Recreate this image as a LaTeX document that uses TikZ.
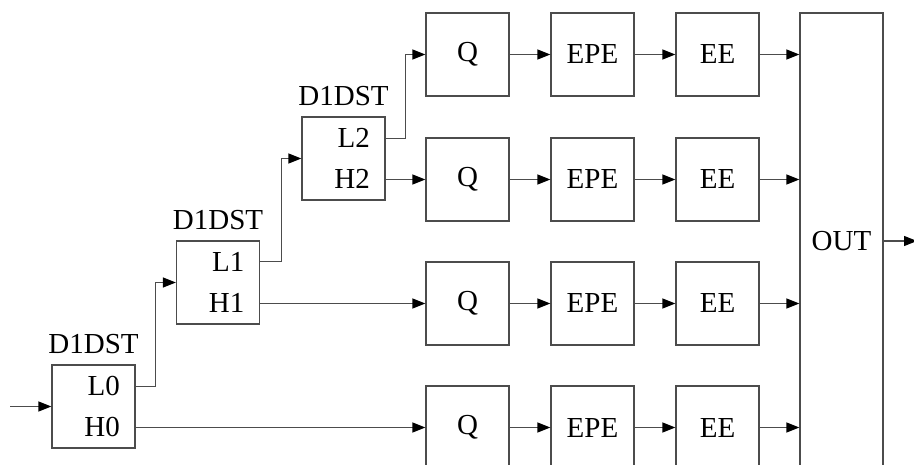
\documentclass[tikz,border=0pt]{standalone}
\usepackage{fontspec}
\setmainfont{Liberation Serif}
\usetikzlibrary{arrows.meta,calc}
\begin{document}
\begin{tikzpicture}[x=1pt,y=-1pt,
  font=\fontsize{29}{33}\selectfont,
  blk/.style={draw=black!70,line width=1.2pt,minimum width=83pt,minimum height=83pt,inner sep=0pt},
  lbl/.style={inner sep=0pt,anchor=base east},
  ttl/.style={inner sep=0pt,anchor=base},
  conn/.style={draw=black!70,line width=1.2pt},
  arr/.style={conn,-{Triangle[length=13pt,width=10pt,black]}}]
\clip (0,0) rectangle (914,464);
\fill[white] (0,0) rectangle (914,464);
% decomposition stages
\node[blk] (d0) at (93.5,406.5) {};
\node[blk] (d1) at (218,282.5) {};
\node[blk] (d2) at (343.5,158.5) {};
\foreach \i in {0,1,2}{
  \node[ttl] (t\i) at ($(d\i.north)+(0,-11)$) {D1DST};
  \node[lbl] (d\i L) at ($(d\i.center)+(26.5,-11)$) {L\i};
  \node[lbl] (d\i H) at ($(d\i.center)+(26.5,30)$) {H\i};
}
% rows
\foreach \r/\y in {1/54.5,2/179.5,3/303.5,4/427.5}{
  \node[blk] (q\r) at (467.5,\y) {Q};
  \node[blk] (p\r) at (592.5,\y) {EPE};
  \node[blk] (e\r) at (717.5,\y) {EE};
  \draw[arr] (q\r) -- (p\r);
  \draw[arr] (p\r) -- (e\r);
}
\node[draw=black!70,line width=1.2pt,minimum width=83pt,minimum height=456pt,inner sep=0pt] (out) at (841.5,241) {OUT};
\foreach \r in {1,2,3,4}{
  \draw[arr] (e\r.east) -- (e\r.east -| out.west);
}
% input / output
\coordinate (in) at (10,406.5);
\coordinate (outp) at (917,241);
\draw[arr] (in) -- (d0.west);
\draw[arr] (out.east) -- (outp);
% L branches
\draw[arr] ($(d0.east)+(0,-20)$) -- ++(20,0) |- (d1.west);
\draw[arr] ($(d1.east)+(0,-21)$) -- ++(21.5,0) |- (d2.west);
\draw[arr] ($(d2.east)+(0,-20)$) -- ++(20,0) |- (q1.west);
% H branches
\draw[arr] (d2.east |- q2) -- (q2.west);
\draw[arr] (d1.east |- q3) -- (q3.west);
\draw[arr] (d0.east |- q4) -- (q4.west);
\end{tikzpicture}
\end{document}
